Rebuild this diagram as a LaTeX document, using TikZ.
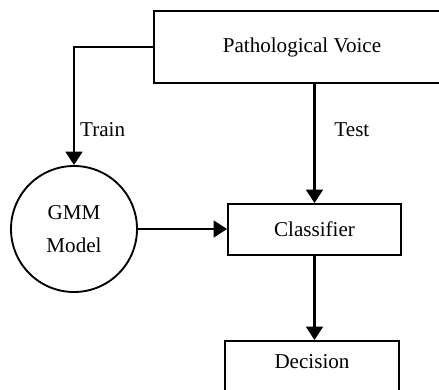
\documentclass[tikz,border=0pt]{standalone}
\usepackage{fontspec}
\setmainfont{Liberation Serif}
\usetikzlibrary{arrows.meta}

\tikzset{
        box/.style={draw, line width=1.6pt, rectangle, font=\fontsize{18}{22}\selectfont},
        ball/.style={draw, line width=1.6pt, circle, align=center, font=\fontsize{18}{28}\selectfont},
        arr/.style={line width=1.8pt, -{Triangle[length=0.4cm,width=0.5cm]}}
}

\begin{document}
\begin{tikzpicture}[x=0.03cm, y=-0.03cm]
        \useasboundingbox (0,0) rectangle (439,390);
        \clip (0,0) rectangle (439,390);
        \node[box, minimum width=8.88cm, minimum height=2.16cm] (voice) at (302,47) {Pathological Voice};
        \node[ball, minimum size=3.78cm, inner sep=0pt] (gmm) at (74,229) {GMM\\Model};
        \node[box, minimum width=5.19cm, minimum height=1.53cm] (clf) at (314.5,229.5) {Classifier};
        \node[box, minimum width=5.22cm, minimum height=1.62cm, text height=0.38cm, text depth=0.38cm] (dec) at (312,368) {Decision};
        \draw[arr] (voice.west) -| (gmm.north) node[pos=0.85, right, xshift=1pt] {\fontsize{18}{22}\selectfont Train};
        \draw[arr] (voice.south -| clf.north) -- (clf.north) node[pos=0.38, right, xshift=0.45cm] {\fontsize{18}{22}\selectfont Test};
        \draw[arr] (gmm.east) -- (gmm.east -| clf.west);
        \draw[arr] (clf.south) -- (clf.south |- dec.north);
    \end{tikzpicture}
\end{document}
